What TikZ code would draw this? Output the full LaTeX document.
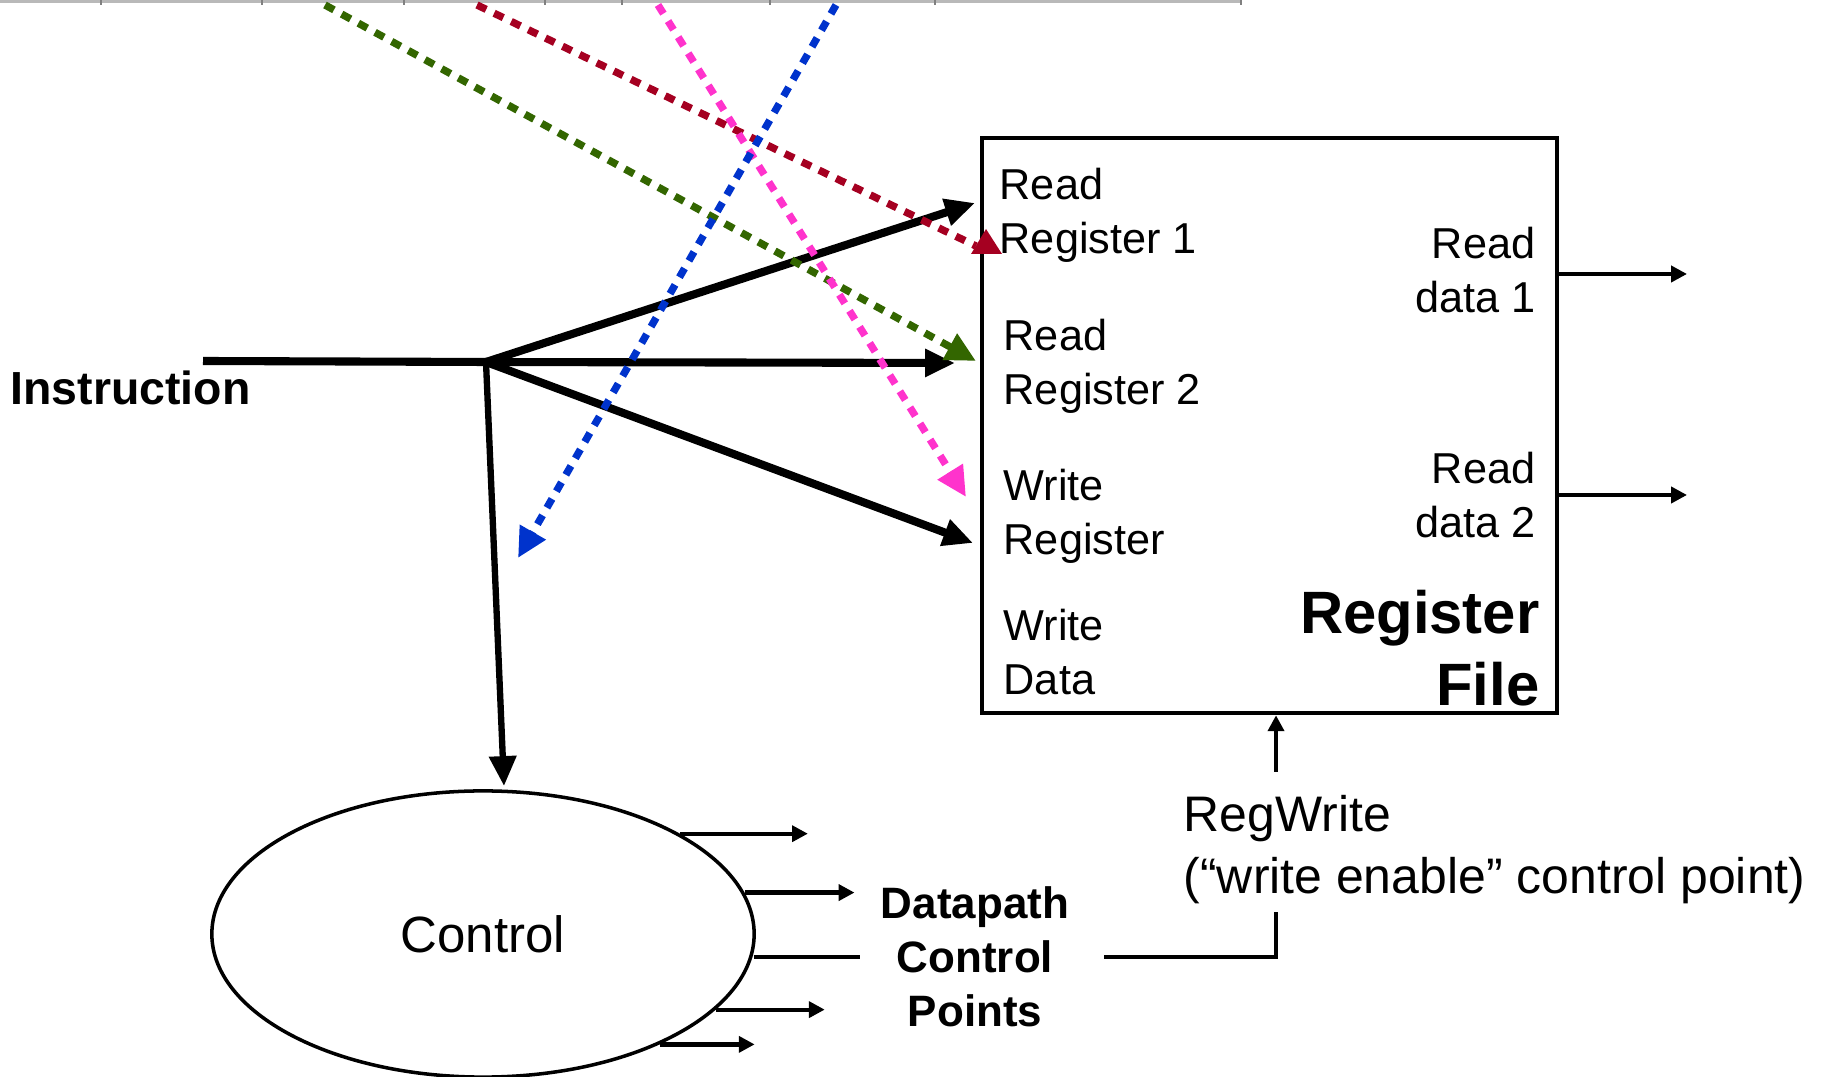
\documentclass[tikz,border=0pt]{standalone}
\usepackage{fontspec}
\setmainfont{Liberation Sans}
\usetikzlibrary{shapes,arrows,positioning,calc,arrows.meta}
\definecolor{fieldred}{RGB}{165,0,33}
\definecolor{fieldgreen}{RGB}{51,102,0}
\definecolor{fieldpink}{RGB}{255,51,204}
\definecolor{fieldblue}{RGB}{0,51,204}

\begin{document}
\begin{tikzpicture}[x=0.01cm,y=-0.01cm,
    wire/.style={line width=2.3pt,-{Triangle[length=8.5pt,width=7.5pt]}},
    sig/.style={line width=1.2pt},
    sigarr/.style={sig,-{Triangle[length=4.5pt,width=4.5pt]}},
    field/.style={line width=2.1pt,dash pattern=on 2.9pt off 2.5pt,-{Triangle[length=8.5pt,width=8pt]}},
    port/.style={inner sep=0pt,font=\fontsize{12.3}{15.4}\selectfont}]
    \useasboundingbox (0,0) rectangle (1825,1077);

    % Ruler at the top edge
    \draw[gray!55,line width=0.9pt] (0,1.5) -- (1241,1.5);
    \foreach \x in {101,262,404,545,622,770,935,1241}
    {
        \draw[gray,line width=0.4pt] (\x,0) -- (\x,5);
    }

    % Register File
    \node[draw,line width=1.2pt,inner sep=0pt,minimum width=5.75cm,minimum height=5.75cm] (rf) at (1269.5,425.5) {};
    \node[port,align=left,anchor=north west] (rrone) at (999,167) {Read\\Register 1};
    \node[port,align=left,anchor=north west] (rrtwo) at (1003,318) {Read\\Register 2};
    \node[port,align=left,anchor=north west] (wreg) at (1003,468) {Write\\Register};
    \node[port,align=left,anchor=north west] (wdata) at (1003,608) {Write\\Data};
    \node[port,align=right,anchor=north east] (rdone) at (1536,226) {Read\\data 1};
    \node[port,align=right,anchor=north east] (rdtwo) at (1536,451) {Read\\data 2};
    \node[inner sep=0pt,align=right,anchor=north east,font=\fontsize{17}{20.5}\selectfont\bfseries] (rfname) at (1540,589) {Register\\File};

    % Control
    \node[draw,ellipse,line width=1pt,inner sep=0pt,minimum width=5.42cm,minimum height=2.86cm,font=\fontsize{14.5}{17}\selectfont] (ctrl) at (483,934) {Control};

    % Instruction fan-out
    \node[inner sep=0pt,anchor=north west,font=\fontsize{13.2}{16}\selectfont\bfseries] (instr) at (10,370) {Instruction};
    \coordinate (in) at (203,361);
    \coordinate (j) at (486,362);
    \coordinate (prone) at (975,203);
    \coordinate (prtwo) at (955,363);
    \coordinate (pwreg) at (973,543);
    \coordinate (pctrl) at (504,786);
    \draw[line width=2.3pt] (in) -- (j);
    \draw[wire] (j) -- (prone);
    \draw[wire] (j) -- (prtwo);
    \draw[wire] (j) -- (pwreg);
    \draw[wire,line width=1.8pt] (j) -- (pctrl);

    % Instruction fields
    \coordinate (fr) at (477,5);
    \coordinate (fg) at (325,5);
    \coordinate (fp) at (658,5);
    \coordinate (fb) at (836,5);
    \draw[field,fieldred,-] (fr) -- (976,246);
    \fill[fieldred] (971,254) -- (986,229) -- (1002,254) -- cycle;
    \draw[field,fieldgreen] (fg) -- (976,361);
    \draw[field,fieldpink] (fp) -- (966,497);
    \draw[field,fieldblue] (fb) -- (518,558);

    % Outputs
    \coordinate (dout1) at (1687,274);
    \coordinate (dout2) at (1687,495);
    \draw[sigarr] (dout1 -| rf.east) -- (dout1);
    \draw[sigarr] (dout2 -| rf.east) -- (dout2);

    % Datapath control points
    \node[inner sep=0pt,align=center,anchor=north,font=\fontsize{12.5}{15.4}\selectfont\bfseries] (dp) at (975,886) {Datapath\\Control\\Points};
    \foreach \a/\l in {27.8/128,9.2/110,-18/109,-32.4/95}
    {
        \draw[sigarr] (ctrl.\a) -- ++(\l,0);
    }
    \coordinate (cpa) at (860,957);
    \coordinate (cpb) at (1104,957);
    \coordinate (cpc) at (1276,912);
    \coordinate (cpd) at (1276,772);
    \draw[sig,line width=1.4pt] (cpa -| ctrl.-4.9) -- (cpa);
    \draw[sig,line width=1.4pt] (cpb) -| (cpc);
    \draw[sigarr] (cpd) -- (cpd |- rf.south);
    \node[inner sep=0pt,align=left,anchor=north west,font=\fontsize{14.2}{17.6}\selectfont] (rw) at (1183,795) {RegWrite\\(“write enable” control point)};
\end{tikzpicture}
\end{document}
